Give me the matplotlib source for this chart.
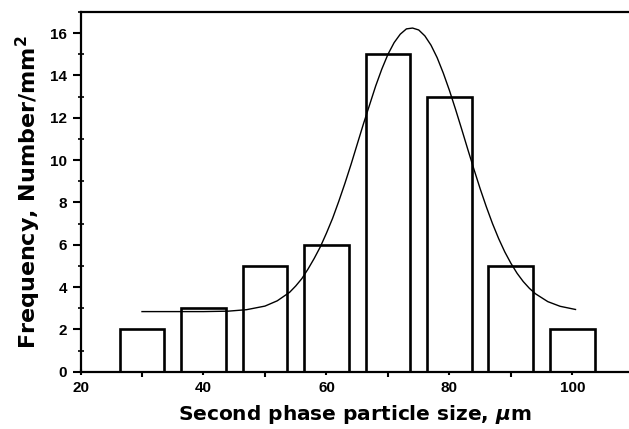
import numpy as np
import matplotlib
matplotlib.use('Agg')
import matplotlib.pyplot as plt
from matplotlib.ticker import MultipleLocator

plt.rcParams['font.family'] = 'Liberation Sans'
plt.rcParams['font.weight'] = 'bold'
plt.rcParams['mathtext.default'] = 'regular'

# histogram
sizes = [30, 40, 50, 60, 70, 80, 90, 100]
counts = [2, 3, 5, 6, 15, 13, 5, 2]

# fitted curve
fit_x = [30, 35, 40, 44, 47, 50, 52, 54, 55, 56, 57, 58, 59, 60, 61, 62, 63,
         64, 65, 66, 67, 68, 69, 70, 71, 72, 73, 74, 75, 76, 77, 78, 79, 80,
         81, 82, 83, 84, 85, 86, 87, 88, 89, 90, 91, 92, 93, 94, 96, 98, 100.5]
fit_y = [2.84, 2.84, 2.84, 2.86, 2.93, 3.1, 3.35, 3.75, 4.05, 4.4, 4.85, 5.35,
         5.9, 6.55, 7.25, 8.05, 8.9, 9.8, 10.75, 11.7, 12.6, 13.5, 14.3, 15.0,
         15.55, 15.95, 16.2, 16.24, 16.15, 15.87, 15.43, 14.84, 14.11, 13.29,
         12.39, 11.45, 10.49, 9.55, 8.64, 7.79, 7.0, 6.29, 5.66, 5.12, 4.65,
         4.26, 3.94, 3.68, 3.31, 3.09, 2.94]

fig = plt.figure(figsize=(6.29, 4.29), dpi=100)
ax = fig.add_axes([0.128, 0.1336, 0.872, 0.8385])

ax.bar(sizes, counts, width=7.3, facecolor='white', edgecolor='black', linewidth=1.9, zorder=2)
ax.plot(fit_x, fit_y, color='black', linewidth=1.0, zorder=3)

ax.set_xlim(20, 109.2)
ax.set_ylim(0, 17)
ax.xaxis.set_major_locator(MultipleLocator(20))
ax.xaxis.set_minor_locator(MultipleLocator(10))
ax.yaxis.set_major_locator(MultipleLocator(2))
ax.yaxis.set_minor_locator(MultipleLocator(1))

for s in ['left', 'bottom', 'top']:
    ax.spines[s].set_linewidth(1.6)
ax.spines['right'].set_visible(False)

ax.tick_params(axis='both', which='major', labelsize=11, width=1.5, length=5)
ax.tick_params(axis='x', which='both', direction='inout')
ax.tick_params(axis='x', which='minor', length=7, width=1.5)
ax.tick_params(axis='y', which='major', direction='out', length=6)
ax.tick_params(axis='y', which='minor', direction='inout', length=5, width=1.2)
ax.tick_params(axis='x', which='major', pad=4)

ax.set_xlabel(r'Second phase particle size, $\mathit{\mu}$m', fontsize=14.5,
              fontweight='bold', family='DejaVu Sans', labelpad=6)
ax.set_ylabel(r'Frequency, Number/mm$^{2}$', fontsize=16,
              fontweight='bold', family='DejaVu Sans', labelpad=5)

fig.savefig('out.png', dpi=100)
